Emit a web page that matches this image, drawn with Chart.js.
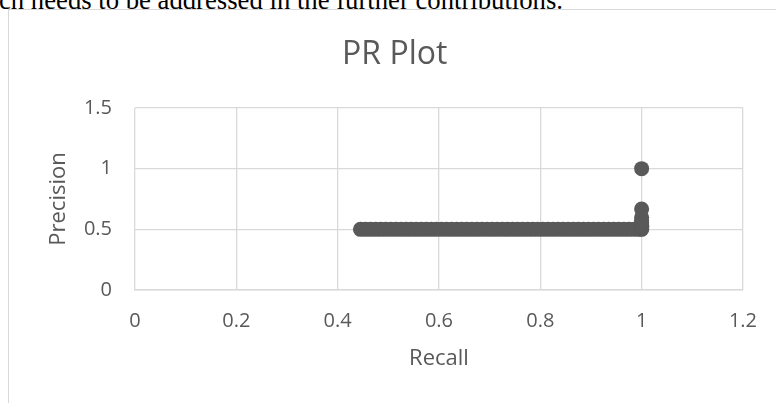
<!DOCTYPE html>
<html>
<head>
<meta charset="utf-8">
<script src="https://cdn.jsdelivr.net/npm/chart.js@4"></script>
<style>
  body { margin: 0; background: #fff; width: 776px; height: 403px; overflow: hidden; position: relative; }
  #doc-text { position: absolute; left: -1px; top: -13px; font: 26.7px/26px "Liberation Serif", serif; color: #000; white-space: nowrap; }
  #frame { position: absolute; left: 8px; top: 9px; right: -2px; bottom: -2px; border-left: 1px solid #d9d9d9; border-top: 1px solid #d9d9d9; }
  #chart { position: absolute; left: 0; top: 0; }
</style>
</head>
<body>
<div id="doc-text">ch needs to be addressed in the further contributions.</div>
<div id="frame"></div>
<canvas id="chart" width="776" height="403"></canvas>
<script>
// Recall / precision pairs
const recall = [
    0.445, 0.455, 0.465, 0.475, 0.485, 0.495, 0.505, 0.515, 0.525, 0.535,
    0.545, 0.555, 0.565, 0.575, 0.585, 0.595, 0.605, 0.615, 0.625, 0.635,
    0.645, 0.655, 0.665, 0.675, 0.685, 0.695, 0.705, 0.715, 0.725, 0.735,
    0.745, 0.755, 0.765, 0.775, 0.785, 0.795, 0.805, 0.815, 0.825, 0.835,
    0.845, 0.855, 0.865, 0.875, 0.885, 0.895, 0.905, 0.915, 0.925, 0.935,
    0.945, 0.955, 0.965, 0.975, 0.985, 0.995, 1,
    1, 1, 1, 1, 1, 1, 1, 1, 1, 1, 1, 1, 1, 1, 1
];
const precision = [
    0.5, 0.5, 0.5, 0.5, 0.5, 0.5, 0.5, 0.5, 0.5, 0.5,
    0.5, 0.5, 0.5, 0.5, 0.5, 0.5, 0.5, 0.5, 0.5, 0.5,
    0.5, 0.5, 0.5, 0.5, 0.5, 0.5, 0.5, 0.5, 0.5, 0.5,
    0.5, 0.5, 0.5, 0.5, 0.5, 0.5, 0.5, 0.5, 0.5, 0.5,
    0.5, 0.5, 0.5, 0.5, 0.5, 0.5, 0.5, 0.5, 0.5, 0.5,
    0.5, 0.5, 0.5, 0.5, 0.5, 0.5, 0.5,
    0.505, 0.51, 0.515, 0.52, 0.524, 0.526, 0.529, 0.533, 0.538, 0.545, 0.556, 0.571, 0.6, 0.667, 1
];

const xTickLabels = ['0', '0.2', '0.4', '0.6', '0.8', '1', '1.2'];
const yTickLabels = ['0', '0.5', '1', '1.5'];

const points = recall.map((r, i) => ({ x: r, y: precision[i] }));

Chart.defaults.font.family = "'Open Sans', 'Noto Sans', sans-serif";
Chart.defaults.color = '#595959';

const grey = '#595959';
const gridColor = '#d9d9d9';

new Chart(document.getElementById('chart').getContext('2d'), {
    type: 'scatter',
    data: {
        datasets: [{
            data: points,
            backgroundColor: grey,
            borderColor: grey,
            borderWidth: 0,
            pointRadius: 7.5,
            pointHoverRadius: 7.5,
            showLine: false
        }]
    },
    options: {
        responsive: false,
        animation: false,
        layout: { padding: { left: 45.5, right: 32, top: 14, bottom: 31 } },
        plugins: {
            legend: { display: false },
            tooltip: { enabled: false },
            title: {
                display: true,
                text: 'PR Plot',
                color: grey,
                font: { size: 32, weight: 'normal' },
                padding: { top: 21.8, bottom: 33.8 }
            }
        },
        scales: {
            x: {
                type: 'linear',
                min: 0,
                max: 1.2,
                ticks: {
                    stepSize: 0.2,
                    padding: 19,
                    color: grey,
                    font: { size: 20 },
                    callback: (v, i) => xTickLabels[i]
                },
                grid: { color: gridColor, lineWidth: 1.3, drawTicks: false },
                border: { color: gridColor, width: 1.5 },
                title: { display: true, text: 'Recall', color: grey, font: { size: 22 }, padding: 0 },
                afterFit: (s) => { s.height = 82; }
            },
            y: {
                type: 'linear',
                min: 0,
                max: 1.5,
                ticks: {
                    stepSize: 0.5,
                    padding: 23,
                    color: grey,
                    font: { size: 20 },
                    callback: (v, i) => yTickLabels[i]
                },
                grid: { color: gridColor, lineWidth: 1.3, drawTicks: false },
                border: { display: false },
                title: { display: true, text: 'Precision', color: grey, font: { size: 22 }, padding: 0 },
                afterFit: (s) => { s.width = 89.5; }
            }
        }
    }
});
</script>
</body>
</html>
